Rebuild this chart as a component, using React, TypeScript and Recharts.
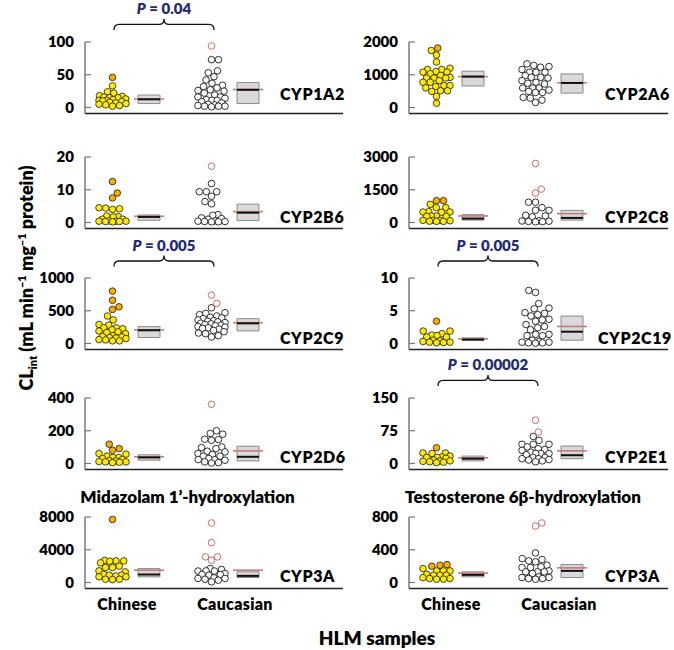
import React from 'react';
import { ComposedChart, Scatter, XAxis, YAxis, ReferenceArea, ReferenceLine } from 'recharts';

const FONT = 'Lato, "Open Sans", "DejaVu Sans", sans-serif';
const FW = 800;

// ---------- data ----------
const GROUPS = ['Chinese', 'Caucasian'];

const CYP1A2_CHN = [33, 24, 22, 18, 17, 16, 15, 15, 13, 12, 11, 11, 10, 9, 8, 7, 6, 5, 4, 3, 2];
const CYP1A2_CHN_OUT = [46];
const CYP1A2_CAU = [73, 73, 56, 53, 47, 42, 37, 34, 32, 30, 27, 26, 25, 22, 19, 16, 16, 14, 12, 11, 11, 9, 7, 5, 4, 3, 2, 2, 2, 1];
const CYP1A2_CAU_OUT = [94];
const CYP1A2_BOX_CHN = [6, 19, 12.5, 13];
const CYP1A2_BOX_CAU = [6, 38, 27, 27.5];

const CYP2A6_CHN = [1740, 1600, 1390, 1200, 1160, 1160, 1100, 1080, 1080, 1030, 980, 920, 900, 900, 900, 820, 770, 770, 670, 670, 640, 600, 510, 510, 490, 340, 130];
const CYP2A6_CHN_OUT = [1815];
const CYP2A6_CAU = [1333, 1282, 1250, 1230, 1160, 1077, 1077, 1077, 975, 923, 923, 900, 820, 770, 738, 718, 595, 595, 595, 533, 490, 460, 460, 308, 287, 225, 154];
const CYP2A6_CAU_OUT: number[] = [];
const CYP2A6_BOX_CHN = [656, 1108, 944, 944];
const CYP2A6_BOX_CAU = [440, 1025, 750, 755];

const CYP2B6_CHN = [4.5, 4.4, 4.2, 4.0, 2.0, 1.8, 1.7, 1.0, 1.0, 0.5, 0.4, 0.4, 0.4, 0.3, 0.3, 0.2];
const CYP2B6_CHN_OUT = [12.5, 9, 7.5];
const CYP2B6_CAU = [11.9, 9.4, 9.4, 9.4, 8, 6.4, 5.7, 2.4, 2.2, 1.4, 1.2, 1.0, 0.5, 0.4, 0.3, 0.3, 0.2, 0.2];
const CYP2B6_CAU_OUT = [17.2];
const CYP2B6_BOX_CHN = [0.7, 2.3, 1.7, 1.9];
const CYP2B6_BOX_CAU = [0.6, 5.6, 3.0, 3.3];

const CYP2C8_CHN = [830, 680, 680, 500, 480, 480, 470, 300, 300, 280, 280, 100, 100, 100, 80, 60, 50, 50];
const CYP2C8_CHN_OUT = [1000, 1000];
const CYP2C8_CAU = [930, 930, 680, 560, 560, 330, 300, 260, 80, 70, 60, 50, 40, 30];
const CYP2C8_CAU_OUT = [2700, 1530, 1350];
const CYP2C8_BOX_CHN = [110, 360, 180, 300];
const CYP2C8_BOX_CAU = [110, 555, 210, 405];

const CYP2C9_CHN = [420, 360, 290, 280, 240, 240, 225, 210, 190, 177, 167, 150, 120, 106, 100, 90, 85, 75, 60, 55, 40, 40];
const CYP2C9_CHN_OUT = [800, 660, 560, 520];
const CYP2C9_CAU = [545, 470, 460, 440, 420, 400, 390, 380, 360, 350, 340, 330, 320, 310, 300, 290, 280, 270, 260, 250, 240, 230, 220, 200, 180, 160, 150, 120, 100];
const CYP2C9_CAU_OUT = [737, 611];
const CYP2C9_BOX_CHN = [91, 258, 202, 207];
const CYP2C9_BOX_CAU = [192, 379, 308, 318];

const CYP2C19_CHN = [1.9, 1.9, 1.5, 1.3, 1.2, 1.0, 1.0, 0.5, 0.4, 0.3, 0.2, 0.2, 0.15, 0.1];
const CYP2C19_CHN_OUT = [3.4];
const CYP2C19_CAU = [8.1, 7.8, 6.1, 5.4, 5.3, 4.7, 4.6, 4.4, 4.2, 3.7, 3.6, 3.4, 2.9, 2.6, 2.4, 2.1, 1.4, 1.4, 1.2, 1.2, 0.5, 0.3, 0.2, 0.2, 0.1, 0.1, 0.05];
const CYP2C19_CAU_OUT: number[] = [];
const CYP2C19_BOX_CHN = [0.5, 0.86, 0.6, 0.7];
const CYP2C19_BOX_CAU = [0.5, 4.2, 1.8, 2.6];

const CYP2D6_CHN = [61, 57, 45, 37, 37, 30, 24, 18, 16, 12, 10, 10, 8, 5];
const CYP2D6_CHN_OUT = [118, 91, 81];
const CYP2D6_CAU = [200, 183, 179, 148, 146, 142, 101, 97, 91, 75, 71, 61, 55, 45, 45, 30, 24, 24, 20, 10, 5, 3];
const CYP2D6_CAU_OUT = [361];
const CYP2D6_BOX_CHN = [20, 53, 37, 41];
const CYP2D6_BOX_CAU = [16, 106, 41, 77];

const CYP2E1_CHN = [24, 24, 23, 17, 15, 14, 14, 12, 8, 6, 6, 5, 4, 3, 2];
const CYP2E1_CHN_OUT = [36];
const CYP2E1_CAU = [62, 53, 44, 44, 44, 38, 34, 32, 30, 26, 23, 23, 23, 20, 14, 14, 11, 11, 9, 8, 6, 4];
const CYP2E1_CAU_OUT = [99, 72];
const CYP2E1_BOX_CHN = [6, 17, 11, 13];
const CYP2E1_BOX_CAU = [11, 40, 19, 29];

const CYP3A_MDZ_CHN = [2700, 2640, 2640, 2600, 2400, 2000, 1830, 1830, 1420, 1300, 1000, 900, 900, 800, 700, 700, 400, 400, 350];
const CYP3A_MDZ_CHN_OUT = [7700];
const CYP3A_MDZ_CAU = [1700, 1580, 1420, 1400, 1400, 1100, 980, 975, 900, 570, 500, 490, 400, 280, 80];
const CYP3A_MDZ_CAU_OUT = [7270, 4870, 3130, 3130, 2720];
const CYP3A_MDZ_BOX_CHN = [690, 1700, 975, 1500];
const CYP3A_MDZ_BOX_CAU = [610, 1300, 810, 1500];

const CYP3A_TST_CHN = [170, 142, 142, 142, 101, 89, 89, 89, 60, 49, 49, 41, 40];
const CYP3A_TST_CHN_OUT = [219, 211, 199];
const CYP3A_TST_CAU = [361, 292, 280, 264, 252, 211, 191, 183, 183, 142, 130, 130, 130, 110, 69, 61, 61, 49, 49, 40];
const CYP3A_TST_CAU_OUT = [727, 690];
const CYP3A_TST_BOX_CHN = [69, 130, 93, 115];
const CYP3A_TST_BOX_CAU = [61, 219, 142, 179];

const AXIS_MAX = [100, 2000, 20, 3000, 1000, 10, 400, 150, 8000, 800];
const GENE_NAMES = ['CYP1A2', 'CYP2A6', 'CYP2B6', 'CYP2C8', 'CYP2C9', 'CYP2C19', 'CYP2D6', 'CYP2E1', 'CYP3A', 'CYP3A'];
const SUBTITLES = ['Midazolam 1\u2019-hydroxylation', 'Testosterone 6\u03B2-hydroxylation'];
const P_VALUES = ['0.04', '0.005', '0.005', '0.00002'];
const P_PANELS = [0, 4, 5, 7];

// ---------- layout ----------
const ROW_TOPS = [41.7, 157.3, 278.3, 397.7, 516.7];
const PLOT_H = 71.5;
const PAD_BOTTOM = 6;
const TOP_M = 10;
const X_AXIS_H = 30;
const CHART_H = TOP_M + PLOT_H + X_AXIS_H;
const Y_AXIS_W = 60;
const COL_X = [0, 340];
const CHART_W = [343, 328];
const MARGIN_L = [25, 9];
const POS_CHN_DOTS = 27.5;
const POS_CHN_BOX = 64;
const POS_CAU_DOTS = 126.5;
const POS_CAU_BOX = 163;
const BOX_HALF = 11;
const MEAN_HALF = 15;
const TICK_POS = [42, 150];
const DOT_R = 3.3;
const DOT_GAP = 6.8;
const SWARM_HALF = 13.5;

const YELLOW = '#FFEC00';
const ORANGE = '#F7AE00';
const OUT_RED = '#C85A5A';
const NAVY = '#1F2C74';

type Panel = {
  name: string; row: number; col: number; max: number;
  chn: number[]; chnOut: number[]; cau: number[]; cauOut: number[];
  chnBox: number[]; cauBox: number[];
};

const RAW: [number[], number[], number[], number[], number[], number[]][] = [
  [CYP1A2_CHN, CYP1A2_CHN_OUT, CYP1A2_CAU, CYP1A2_CAU_OUT, CYP1A2_BOX_CHN, CYP1A2_BOX_CAU],
  [CYP2A6_CHN, CYP2A6_CHN_OUT, CYP2A6_CAU, CYP2A6_CAU_OUT, CYP2A6_BOX_CHN, CYP2A6_BOX_CAU],
  [CYP2B6_CHN, CYP2B6_CHN_OUT, CYP2B6_CAU, CYP2B6_CAU_OUT, CYP2B6_BOX_CHN, CYP2B6_BOX_CAU],
  [CYP2C8_CHN, CYP2C8_CHN_OUT, CYP2C8_CAU, CYP2C8_CAU_OUT, CYP2C8_BOX_CHN, CYP2C8_BOX_CAU],
  [CYP2C9_CHN, CYP2C9_CHN_OUT, CYP2C9_CAU, CYP2C9_CAU_OUT, CYP2C9_BOX_CHN, CYP2C9_BOX_CAU],
  [CYP2C19_CHN, CYP2C19_CHN_OUT, CYP2C19_CAU, CYP2C19_CAU_OUT, CYP2C19_BOX_CHN, CYP2C19_BOX_CAU],
  [CYP2D6_CHN, CYP2D6_CHN_OUT, CYP2D6_CAU, CYP2D6_CAU_OUT, CYP2D6_BOX_CHN, CYP2D6_BOX_CAU],
  [CYP2E1_CHN, CYP2E1_CHN_OUT, CYP2E1_CAU, CYP2E1_CAU_OUT, CYP2E1_BOX_CHN, CYP2E1_BOX_CAU],
  [CYP3A_MDZ_CHN, CYP3A_MDZ_CHN_OUT, CYP3A_MDZ_CAU, CYP3A_MDZ_CAU_OUT, CYP3A_MDZ_BOX_CHN, CYP3A_MDZ_BOX_CAU],
  [CYP3A_TST_CHN, CYP3A_TST_CHN_OUT, CYP3A_TST_CAU, CYP3A_TST_CAU_OUT, CYP3A_TST_BOX_CHN, CYP3A_TST_BOX_CAU],
];

const PANELS: Panel[] = RAW.map((r, i) => ({
  name: GENE_NAMES[i], row: Math.floor(i / 2), col: i % 2, max: AXIS_MAX[i],
  chn: r[0], chnOut: r[1], cau: r[2], cauOut: r[3], chnBox: r[4], cauBox: r[5],
}));

// compact beeswarm: x offsets inside a fixed width; when crowded, take the least-overlapping spot
function swarm(values: number[], ppu: number, d: number, half: number): number[] {
  const items = values.map((v, i) => ({ i, y: v * ppu })).sort((a, b) => a.y - b.y);
  const placed: { x: number; y: number }[] = [];
  const out = new Array(values.length).fill(0);
  const grid: number[] = [];
  for (let x = -half; x <= half + 1e-9; x += 0.25) grid.push(x);
  let flip = 1;
  for (const it of items) {
    let best = 0, bestAbs = Infinity, fbX = 0, fbD = -1;
    for (const x0 of grid) {
      const x = x0 * flip;
      let md = Infinity;
      for (const p of placed) {
        const dd = Math.hypot(p.x - x, p.y - it.y);
        if (dd < md) md = dd;
      }
      if (md >= d) {
        if (Math.abs(x) < bestAbs - 1e-9) { bestAbs = Math.abs(x); best = x; }
      }
      if (md > fbD + 1e-9) { fbD = md; fbX = x; }
    }
    const x = bestAbs < Infinity ? best : fbX;
    placed.push({ x, y: it.y });
    out[it.i] = x;
    flip = -flip;
  }
  return out;
}

function buildGroup(vals: number[], outs: number[], pos: number, ppu: number) {
  const all = [...vals.map((v) => ({ v, out: false })), ...outs.map((v) => ({ v, out: true }))];
  const dx = swarm(all.map((a) => a.v), ppu, DOT_GAP, SWARM_HALF);
  return all.map((a, i) => ({ x: pos, y: a.v, dx: dx[i], out: a.out }));
}

const chnShape = (p: any) => (
  <circle cx={p.cx + p.payload.dx} cy={p.cy} r={DOT_R}
    fill={p.payload.out ? ORANGE : YELLOW} stroke="#1a1a1a" strokeWidth={0.8} />
);
const cauShape = (p: any) => (
  <circle cx={p.cx + p.payload.dx} cy={p.cy} r={DOT_R}
    fill="#ffffff" stroke={p.payload.out ? OUT_RED : '#1a1a1a'} strokeWidth={0.9} />
);

const tickStyle = { fill: '#000', fontSize: 15, fontWeight: FW, fontFamily: FONT };

function PanelChart({ p }: { p: Panel }) {
  const width = CHART_W[p.col];
  const plotW = width - MARGIN_L[p.col] - Y_AXIS_W;
  const ppu = (PLOT_H - PAD_BOTTOM) / p.max;
  const chnData = buildGroup(p.chn, p.chnOut, POS_CHN_DOTS, ppu);
  const cauData = buildGroup(p.cau, p.cauOut, POS_CAU_DOTS, ppu);
  const bottom = p.row === 4;
  const boxes = [
    { c: POS_CHN_BOX, b: p.chnBox },
    { c: POS_CAU_BOX, b: p.cauBox },
  ];
  return (
    <div style={{ position: 'absolute', left: COL_X[p.col], top: ROW_TOPS[p.row] - TOP_M, width, height: CHART_H }}>
      <ComposedChart width={width} height={CHART_H} margin={{ top: TOP_M, right: 0, bottom: 0, left: MARGIN_L[p.col] }}>
        <XAxis type="number" dataKey="x" domain={[0, plotW]} ticks={TICK_POS} interval={0}
          tickFormatter={(v: number) => GROUPS[TICK_POS.indexOf(v)] ?? ''}
          tick={bottom ? { fill: '#000', fontSize: 16, fontWeight: FW, fontFamily: FONT, letterSpacing: 0.3 } : false}
          tickLine={false} tickMargin={4} height={X_AXIS_H}
          axisLine={{ stroke: '#222', strokeWidth: 1.7 }} />
        <YAxis type="number" dataKey="y" domain={[0, p.max]} ticks={[0, p.max / 2, p.max]} interval={0}
          width={Y_AXIS_W} padding={{ top: 0, bottom: PAD_BOTTOM }} tickSize={-6} tickMargin={17}
          tick={tickStyle} tickLine={{ stroke: '#777', strokeWidth: 1.2 }}
          axisLine={{ stroke: '#666', strokeWidth: 1.3 }} />
        {boxes.map((bx, i) => (
          <ReferenceArea key={'a' + i} x1={bx.c - BOX_HALF} x2={bx.c + BOX_HALF} y1={bx.b[0]} y2={bx.b[1]}
            fill="#D9D9D9" fillOpacity={1} stroke="#8A8A8A" strokeWidth={1} />
        ))}
        {boxes.map((bx, i) => (
          <ReferenceLine key={'m' + i} segment={[{ x: bx.c - MEAN_HALF, y: bx.b[3] }, { x: bx.c + MEAN_HALF, y: bx.b[3] }]}
            stroke="#C77A7A" strokeWidth={1.6} />
        ))}
        {boxes.map((bx, i) => (
          <ReferenceLine key={'d' + i} segment={[{ x: bx.c - BOX_HALF, y: bx.b[2] }, { x: bx.c + BOX_HALF, y: bx.b[2] }]}
            stroke="#111" strokeWidth={2} />
        ))}
        <Scatter data={chnData} dataKey="y" shape={chnShape} isAnimationActive={false} />
        <Scatter data={cauData} dataKey="y" shape={cauShape} isAnimationActive={false} />
      </ComposedChart>
    </div>
  );
}

function plotLeft(col: number) {
  return COL_X[col] + MARGIN_L[col] + Y_AXIS_W;
}

function bracePath(x1: number, x2: number, yEnd: number) {
  const yl = yEnd - 5.5, yt = yEnd - 11, xm = (x1 + x2) / 2, r = 5;
  return `M${x1},${yEnd} Q${x1},${yl} ${x1 + r},${yl} L${xm - r},${yl} Q${xm},${yl} ${xm},${yt} Q${xm},${yl} ${xm + r},${yl} L${x2 - r},${yl} Q${x2},${yl} ${x2},${yEnd}`;
}

const GENE_LIFT = [13, 6, 6, 6, 6];
const GENE_X = [280, 605];

export default function App() {
  return (
    <div style={{ position: 'absolute', left: 0, top: 0, width: 674, height: 650, background: '#fff', fontFamily: FONT }}>
      {PANELS.map((p, i) => <PanelChart key={i} p={p} />)}
      <svg width={674} height={650} style={{ position: 'absolute', left: 0, top: 0, pointerEvents: 'none' }}
        fontFamily={FONT} fontWeight={FW}>
        {PANELS.map((p, i) => {
          const base = ROW_TOPS[p.row] + PLOT_H - GENE_LIFT[p.row];
          const long = p.name.length > 6 && p.col === 1;
          return (
            <text key={'g' + i} x={long ? 598 : GENE_X[p.col]} y={base} fontSize={16} letterSpacing={0.6} fill="#000">{p.name}</text>
          );
        })}
        {P_PANELS.map((pi, k) => {
          const p = PANELS[pi];
          const L = plotLeft(p.col);
          const yEnd = ROW_TOPS[p.row] - 11.8;
          const x1 = L + POS_CHN_DOTS + 1.5, x2 = L + POS_CAU_DOTS + 2.5;
          return (
            <g key={'p' + k}>
              <path d={bracePath(x1, x2, yEnd)} fill="none" stroke="#111" strokeWidth={1.3} />
              <text x={(x1 + x2) / 2} y={yEnd - 16} textAnchor="middle" fontSize={15} fill={NAVY}>
                <tspan fontStyle="italic">P</tspan> = {P_VALUES[k]}
              </text>
            </g>
          );
        })}
        {SUBTITLES.map((s, c) => (
          <text key={'s' + c} x={c === 0 ? 187.5 : 523} y={502.5} textAnchor="middle" fontSize={17} fill="#000">{s}</text>
        ))}
        <text transform="translate(33,278) rotate(-90)" textAnchor="middle" fontSize={18} fill="#000">
          CL<tspan fontSize={11} dy={4}>int</tspan>
          <tspan dy={-4}> (mL min</tspan>
          <tspan fontSize={11} dy={-7}>{'\u22121'}</tspan>
          <tspan dy={7}> mg</tspan>
          <tspan fontSize={11} dy={-7}>{'\u22121'}</tspan>
          <tspan dy={7}> protein)</tspan>
        </text>
        <text x={377} y={645} textAnchor="middle" fontSize={19} fill="#000">HLM samples</text>
      </svg>
    </div>
  );
}
